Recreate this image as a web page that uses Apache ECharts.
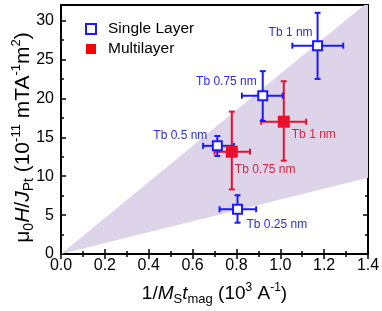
<!DOCTYPE html>
<html><head><meta charset="utf-8">
<script src="https://cdn.jsdelivr.net/npm/echarts@6/dist/echarts.min.js"></script>
<style>html,body{margin:0;padding:0;background:#fff}#c{width:382px;height:311px}</style>
</head><body><div id="c"></div>
<script>
// ---- data ----
const xTickMin = 0, xTickMax = 1.4, xTickStep = 0.2;
const yMin = 0, yMax = 32;
const yTickVals = [0, 5, 10, 15, 20, 25, 30];
const yMinorVals = [2.5, 7.5, 12.5, 17.5, 22.5, 27.5];

const singleNames = ['Tb 1 nm', 'Tb 0.75 nm', 'Tb 0.5 nm', 'Tb 0.25 nm'];
const singleX   = [1.170, 0.920, 0.713, 0.805];
const singleY   = [26.77, 20.35, 13.90, 5.75];
const singleXLo = [1.055, 0.825, 0.648, 0.723];
const singleXHi = [1.287, 1.011, 0.788, 0.890];
const singleYLo = [22.5, 17.1, 12.6, 4.02];
const singleYHi = [31.0, 23.5, 15.17, 7.55];

const multiNames = ['Tb 1 nm', 'Tb 0.75 nm'];
const multiX   = [1.016, 0.779];
const multiY   = [17.0, 13.15];
const multiXLo = [0.913, 0.700];
const multiXHi = [1.118, 0.862];
const multiYLo = [12.0, 8.3];
const multiYHi = [22.2, 18.3];

// shaded band vertices (x, y)
const bandX = [0, 1.4, 1.4];
const bandY = [0, 32.4, 9.8];

// ---- styles ----
const FONT = '"Liberation Sans", Arial, Helvetica, sans-serif';
const BLUE = '#1a1aff';
const BLUE_TXT = '#2b2bf0';
const RED = '#e8112d';
const RED_TXT = '#e0203c';
const singleLabelLayout = [
  {align: 'right', offset: [-5, -13]},
  {align: 'right', offset: [-6, -14]},
  {align: 'right', offset: [-10, -10]},
  {align: 'left', offset: [9, 15]}
];
const multiLabelLayout = [
  {align: 'left', offset: [8, 13]},
  {align: 'left', offset: [3, 18]}
];

function zip(xs, ys, a, b, c, d) { return xs.map((x, i) => [x, ys[i], a[i], b[i], c[i], d[i]]); }

function errRenderer(color) {
  return function (params, api) {
    const x = api.value(0), y = api.value(1);
    const c = api.coord([x, y]);
    const l = api.coord([api.value(2), y]);
    const r = api.coord([api.value(3), y]);
    const lo = api.coord([x, api.value(4)]);
    const hi = api.coord([x, api.value(5)]);
    const cap = 3;
    const st = {stroke: color, lineWidth: 2};
    const ln = (x1, y1, x2, y2) => ({type: 'line', shape: {x1, y1, x2, y2}, style: st});
    return {type: 'group', children: [
      ln(l[0], c[1], r[0], c[1]),
      ln(c[0], lo[1], c[0], hi[1]),
      ln(l[0], c[1] - cap, l[0], c[1] + cap),
      ln(r[0], c[1] - cap, r[0], c[1] + cap),
      ln(c[0] - cap, lo[1], c[0] + cap, lo[1]),
      ln(c[0] - cap, hi[1], c[0] + cap, hi[1])
    ]};
  };
}

function makeRich(fs, sfs, lh) {
  return {
    n: {fontSize: fs, fontFamily: FONT, color: '#000', lineHeight: lh},
    it: {fontSize: fs, fontFamily: FONT, color: '#000', fontStyle: 'italic', lineHeight: lh},
    sub: {fontSize: sfs, fontFamily: FONT, color: '#000', lineHeight: sfs, verticalAlign: 'bottom'},
    sup: {fontSize: sfs - 1, fontFamily: FONT, color: '#000', lineHeight: sfs, verticalAlign: 'top'}
  };
}

const tickCommon = {show: true, inside: true, lineStyle: {color: '#000', width: 1.5}};

const xBase = {
  type: 'value', min: xTickMin, max: xTickMax, interval: xTickStep,
  axisLine: {show: false}, splitLine: {show: false},
  axisTick: Object.assign({length: 5}, tickCommon),
  minorTick: {show: true, splitNumber: 2, length: 3, lineStyle: {color: '#000', width: 1.5}}
};

const yBase = {
  type: 'value', min: yMin, max: yMax,
  axisLine: {show: false}, splitLine: {show: false}
};

const option = {
  animation: false,
  grid: {left: 61, right: 14, top: 5, bottom: 57, show: true, borderColor: '#000', borderWidth: 2,
         backgroundColor: 'transparent', containLabel: false, outerBoundsMode: 'none'},
  legend: {
    orient: 'vertical', left: 85, top: 21, padding: 0, itemWidth: 10, itemHeight: 10, itemGap: 4,
    textStyle: {fontSize: 15.5, fontFamily: FONT, color: '#000', lineHeight: 16, padding: [0, 0, 0, 7]},
    data: [
      {name: 'Single Layer', icon: 'rect', itemStyle: {color: '#fff', borderColor: BLUE, borderWidth: 2}},
      {name: 'Multilayer', icon: 'rect', itemStyle: {color: '#ff0000', borderWidth: 0}}
    ]
  },
  xAxis: [
    Object.assign({}, xBase, {
      position: 'bottom',
      axisLabel: {fontSize: 16, fontFamily: FONT, color: '#000', margin: 4, formatter: v => v.toFixed(1)},
      name: '{n|1/}{it|M}{sub|S}{it|t}{sub|mag}{n| (10}{sup|3}{n| A}{sup|-1}{n|)}',
      nameLocation: 'middle', nameGap: 28, nameMoveOverlap: false,
      nameTextStyle: {rich: makeRich(19, 13, 24)}
    }),
    Object.assign({}, xBase, {position: 'top', axisLabel: {show: false}})
  ],
  yAxis: [
    Object.assign({}, yBase, {
      position: 'left',
      axisTick: Object.assign({length: 5, customValues: yTickVals}, tickCommon),
      axisLabel: {fontSize: 16, fontFamily: FONT, color: '#000', margin: 7, customValues: yTickVals},
      name: '{n|μ}{sub|0}{it|H}{n|/}{it|J}{sub|Pt}{n| (10}{sup|-11}{n| mTA}{sup|-1}{n|m}{sup|2}{n|)}',
      nameLocation: 'middle', nameGap: 25, nameMoveOverlap: false,
      nameTextStyle: {rich: makeRich(21, 14, 26), padding: [0, 16, 0, 0]}
    }),
    Object.assign({}, yBase, {
      position: 'left',
      axisTick: Object.assign({length: 3, customValues: yMinorVals}, tickCommon),
      axisLabel: {show: false}
    }),
    Object.assign({}, yBase, {
      position: 'right',
      axisTick: Object.assign({length: 5, customValues: yTickVals}, tickCommon),
      axisLabel: {show: false}
    }),
    Object.assign({}, yBase, {
      position: 'right',
      axisTick: Object.assign({length: 3, customValues: yMinorVals}, tickCommon),
      axisLabel: {show: false}
    })
  ],
  series: [
    {
      type: 'custom', name: 'band', silent: true, clip: true, z: 1,
      data: [[bandX[0], bandY[0]]],
      encode: {x: 0, y: 1},
      renderItem: function (params, api) {
        const pts = bandX.map((x, i) => api.coord([x, bandY[i]]));
        return {type: 'polygon', shape: {points: pts}, style: {fill: '#ded4ea', stroke: null}};
      }
    },
    {
      type: 'custom', name: 'Multilayer err', z: 3,
      data: zip(multiX, multiY, multiXLo, multiXHi, multiYLo, multiYHi),
      encode: {x: [0, 2, 3], y: [1, 4, 5]},
      renderItem: errRenderer(RED)
    },
    {
      type: 'custom', name: 'Single Layer err', z: 3,
      data: zip(singleX, singleY, singleXLo, singleXHi, singleYLo, singleYHi),
      encode: {x: [0, 2, 3], y: [1, 4, 5]},
      renderItem: errRenderer(BLUE)
    },
    {
      type: 'scatter', name: 'Single Layer', z: 4,
      symbol: 'rect', symbolSize: 9,
      itemStyle: {color: '#fff', borderColor: BLUE, borderWidth: 2, opacity: 1},
      data: singleX.map((x, i) => ({
        value: [x, singleY[i]],
        label: {show: true, position: 'inside', formatter: singleNames[i], color: BLUE_TXT,
                fontSize: 12, fontFamily: FONT, align: singleLabelLayout[i].align,
                verticalAlign: 'middle', offset: singleLabelLayout[i].offset}
      }))
    },
    {
      type: 'scatter', name: 'Multilayer', z: 5,
      symbol: 'rect', symbolSize: 12,
      itemStyle: {color: RED, opacity: 1},
      data: multiX.map((x, i) => ({
        value: [x, multiY[i]],
        label: {show: true, position: 'inside', formatter: multiNames[i], color: RED_TXT,
                fontSize: 12, fontFamily: FONT, align: multiLabelLayout[i].align,
                verticalAlign: 'middle', offset: multiLabelLayout[i].offset}
      }))
    }
  ]
};

const chart = echarts.init(document.getElementById('c'), null, {renderer: 'canvas'});
chart.setOption(option);
</script>
</body></html>
